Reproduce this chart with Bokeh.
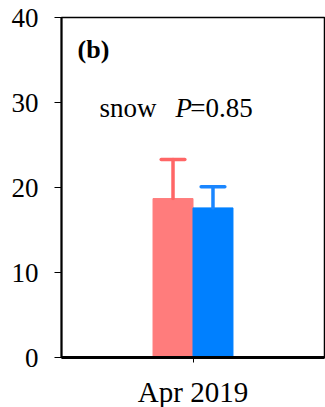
from bokeh.plotting import figure
from bokeh.models import FactorRange, Range1d, ColumnDataSource, FixedTicker, Label
from bokeh.transform import dodge
from bokeh.embed import file_html
from bokeh.resources import INLINE

# data
categories = ["Apr 2019"]
series_a = [18.7]        # pink
series_a_err = [4.6]
series_b = [17.6]        # blue
series_b_err = [2.5]
y_ticks = [0, 10, 20, 30, 40]
panel_label = "(b)"
annot_word = "snow"
p_value = 0.85

FONT = "Liberation Serif"
PINK, PINK_ERR = "#FF7C7C", "#FF6666"
BLUE, BLUE_ERR = "#0080FF", "#1A86FF"
BW = 0.152

p = figure(width=325, height=407, output_backend="svg", toolbar_location=None,
           x_range=FactorRange(*categories, range_padding=0),
           y_range=Range1d(0, 40),
           frame_width=263, frame_height=340,
           min_border_left=61, min_border_right=1, min_border_top=17, min_border_bottom=50)
p.background_fill_color = "white"
p.border_fill_color = "white"
p.outline_line_color = "black"
p.outline_line_width = 1.5
p.grid.visible = False

src_a = ColumnDataSource(dict(cat=categories, v=series_a,
                              up=[v + e for v, e in zip(series_a, series_a_err)]))
src_b = ColumnDataSource(dict(cat=categories, v=series_b,
                              up=[v + e for v, e in zip(series_b, series_b_err)]))

for src, off, fill, ec in [(src_a, -BW / 2, PINK, PINK_ERR), (src_b, BW / 2, BLUE, BLUE_ERR)]:
    p.vbar(x=dodge("cat", off, range=p.x_range), top="v", bottom=0, width=BW, source=src,
           fill_color=fill, line_color=fill, line_width=1)
    p.segment(x0=dodge("cat", off, range=p.x_range), y0="v",
              x1=dodge("cat", off, range=p.x_range), y1="up", source=src,
              line_color=ec, line_width=3.5, line_cap="round")
    p.segment(x0=dodge("cat", off - 0.045, range=p.x_range), y0="up",
              x1=dodge("cat", off + 0.045, range=p.x_range), y1="up", source=src,
              line_color=ec, line_width=3.5, line_cap="round")

# axes
p.yaxis.ticker = FixedTicker(ticks=y_ticks)
p.yaxis.minor_tick_line_color = None
p.yaxis.major_tick_in = 0
p.yaxis.major_tick_out = 7
p.yaxis.major_tick_line_width = 1
p.yaxis.axis_line_width = 2
p.yaxis.major_label_text_font = FONT
p.yaxis.major_label_text_font_size = "27px"
p.yaxis.major_label_text_color = "black"
p.yaxis.major_label_standoff = 16
p.yaxis.axis_line_color = "black"

p.xaxis.major_tick_in = 0
p.xaxis.major_tick_out = 5
p.xaxis.axis_line_width = 3
p.xaxis.axis_line_color = "black"
p.xaxis.major_label_text_font = FONT
p.xaxis.major_label_text_font_size = "29px"
p.xaxis.major_label_text_color = "black"
p.xaxis.major_label_standoff = 13

# annotations
p.add_layout(Label(x=0.061, y=36.2, text=panel_label, text_font=FONT, text_font_size="26px",
                   text_font_style="bold", text_color="black", text_baseline="alphabetic"))
p.add_layout(Label(x=0.1445, y=29.35, text=annot_word, text_font=FONT, text_font_size="27px",
                   text_color="black", text_baseline="alphabetic"))
p.add_layout(Label(x=0.4335, y=29.35, text="P", text_font=FONT, text_font_size="27px",
                   text_font_style="italic", text_color="black", text_baseline="alphabetic"))
p.add_layout(Label(x=0.49, y=29.35, text="=" + f"{p_value:.2f}", text_font=FONT, text_font_size="27px",
                   text_color="black", text_baseline="alphabetic"))

open("out.html", "w").write(file_html(p, INLINE))
